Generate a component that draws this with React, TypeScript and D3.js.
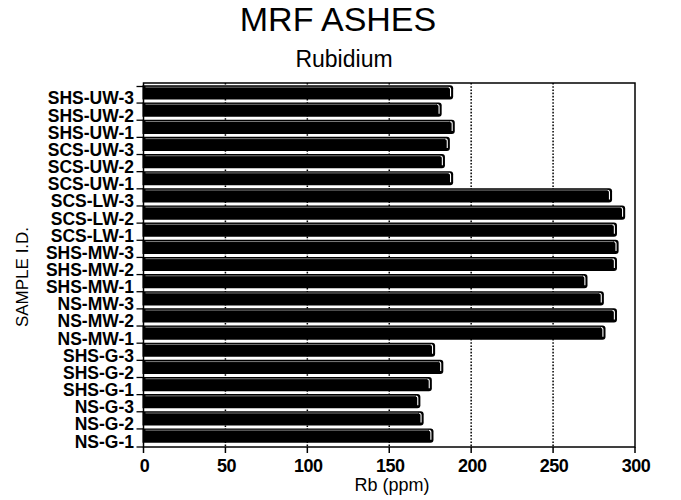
import React, { useEffect, useRef } from "react";
import * as d3 from "d3";

// sample ids, top to bottom as drawn
const samples = [
  "SHS-UW-3", "SHS-UW-2", "SHS-UW-1",
  "SCS-UW-3", "SCS-UW-2", "SCS-UW-1",
  "SCS-LW-3", "SCS-LW-2", "SCS-LW-1",
  "SHS-MW-3", "SHS-MW-2", "SHS-MW-1",
  "NS-MW-3", "NS-MW-2", "NS-MW-1",
  "SHS-G-3", "SHS-G-2", "SHS-G-1",
  "NS-G-3", "NS-G-2", "NS-G-1",
];
// Rb (ppm)
const rubidium = [
  189, 182, 190,
  187, 184, 189,
  286, 294, 289,
  290, 289, 271,
  281, 289, 282,
  178, 183, 176,
  169, 171, 177,
];
const xTicks = [0, 50, 100, 150, 200, 250, 300];

const FONT = '"Liberation Sans", Arial, Helvetica, sans-serif';

export default function App() {
  const ref = useRef<SVGSVGElement>(null);

  useEffect(() => {
    drawChart();
  });

  function drawChart() {
    const svg = d3.select(ref.current);
    svg.selectAll("*").remove();

    const left = 143.5, right = 635, top = 83, bottom = 447;

    const x = d3.scaleLinear().domain([0, 300]).range([left, right]);
    const y = d3.scaleBand<string>().domain(samples).range([top + 1, 444]).paddingInner(0.17).paddingOuter(0.08);
    const step = y.step();

    // titles
    svg.append("text").attr("x", 338).attr("y", 31).attr("text-anchor", "middle")
      .attr("font-family", FONT).attr("font-size", 34).text("MRF ASHES");
    svg.append("text").attr("x", 344).attr("y", 67).attr("text-anchor", "middle")
      .attr("font-family", FONT).attr("font-size", 23).text("Rubidium");

    // dotted grid behind bars
    svg.append("g").selectAll("line")
      .data(xTicks.filter((t) => t > 0 && t < 300))
      .join("line")
      .attr("x1", (d) => x(d)).attr("x2", (d) => x(d))
      .attr("y1", top).attr("y2", bottom)
      .attr("stroke", "#000").attr("stroke-width", 1.5)
      .attr("stroke-dasharray", "1.6,1.6");

    // bars
    const r = 3;
    const bars = svg.append("g").selectAll("g")
      .data(samples.map((s, i) => ({ s, v: rubidium[i] })))
      .join("g");

    bars.append("path")
      .attr("fill", "#000")
      .attr("d", (d) => {
        const x0 = x(0) - 1, x1 = x(d.v), yt = y(d.s)!, h = y.bandwidth();
        return `M${x0},${yt} H${x1 - r} Q${x1},${yt} ${x1},${yt + r} V${yt + h - r} Q${x1},${yt + h} ${x1 - r},${yt + h} H${x0} Z`;
      });

    // faint highlight along the top of each bar
    bars.append("line")
      .attr("x1", x(0) + 2).attr("x2", (d) => x(d.v) - 5)
      .attr("y1", (d) => y(d.s)! + 1.8).attr("y2", (d) => y(d.s)! + 1.8)
      .attr("stroke", "#999").attr("stroke-width", 0.8);

    // white end cap line
    bars.append("path")
      .attr("fill", "none").attr("stroke", "#fff").attr("stroke-width", 1.1)
      .attr("d", (d) => {
        const x1 = x(d.v) - 2.6, yt = y(d.s)! + 2, h = y.bandwidth();
        return `M${x1 - 2},${yt} Q${x1},${yt} ${x1},${yt + 2} V${yt + h - 5}`;
      });

    // frame
    svg.append("rect").attr("x", left).attr("y", top).attr("width", right - left).attr("height", bottom - top)
      .attr("fill", "none").attr("stroke", "#000").attr("stroke-width", 1.5);

    // y ticks and labels
    const yTickPos = samples.map((s) => y(s)! + step - y.paddingInner() * step / 2 + 2);
    svg.append("g").selectAll("line")
      .data([top + 3.5, ...yTickPos.slice(0, -1), bottom])
      .join("line")
      .attr("x1", left - 7).attr("x2", left).attr("y1", (d) => d).attr("y2", (d) => d)
      .attr("stroke", "#000").attr("stroke-width", 1.3);

    svg.append("g").selectAll("text")
      .data(samples)
      .join("text")
      .attr("x", 134)
      .attr("y", (d) => y(d)! + y.bandwidth() / 2 + 12)
      .attr("text-anchor", "end")
      .attr("font-family", FONT).attr("font-size", 17.5).attr("font-weight", "bold")
      .text((d) => d);

    // x ticks and labels
    svg.append("g").selectAll("line")
      .data(xTicks)
      .join("line")
      .attr("x1", (d) => x(d)).attr("x2", (d) => x(d))
      .attr("y1", bottom).attr("y2", bottom + 6)
      .attr("stroke", "#000").attr("stroke-width", 1.5);

    svg.append("g").selectAll("text")
      .data(xTicks)
      .join("text")
      .attr("x", (d) => x(d) + 1)
      .attr("y", 472)
      .attr("text-anchor", "middle")
      .attr("font-family", FONT).attr("font-size", 18).attr("font-weight", "bold")
      .attr("letter-spacing", -0.5)
      .text((d) => d);

    // axis titles
    svg.append("text").attr("x", 392).attr("y", 491).attr("text-anchor", "middle")
      .attr("font-family", FONT).attr("font-size", 18).text("Rb (ppm)");
    svg.append("text").attr("transform", "translate(28,277) rotate(-90)").attr("text-anchor", "middle")
      .attr("font-family", FONT).attr("font-size", 17).text("SAMPLE I.D.");
  }

  return (
    <svg ref={ref} width={681} height={500}
      style={{ position: "absolute", left: 0, top: 0, background: "#fff" }} />
  );
}
